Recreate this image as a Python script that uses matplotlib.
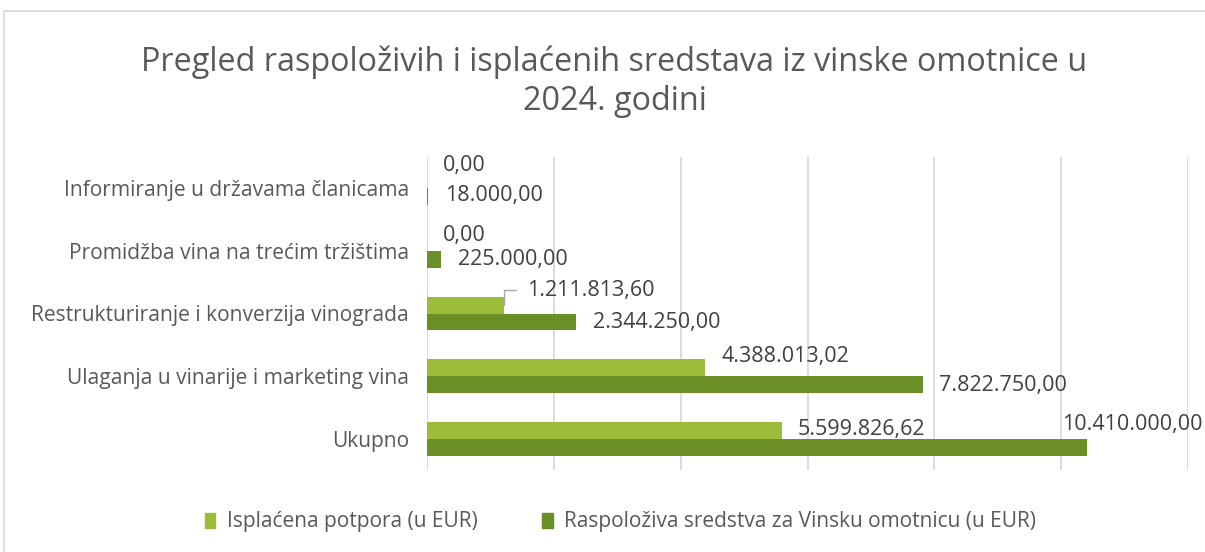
import matplotlib.pyplot as plt
from matplotlib.patches import Rectangle, Patch

plt.rcParams['font.family'] = ['Open Sans', 'DejaVu Sans']

# data (bottom -> top)
categories = ["Ukupno",
              "Ulaganja u vinarije i marketing vina",
              "Restrukturiranje i konverzija vinograda",
              "Promidžba vina na trećim tržištima",
              "Informiranje u državama članicama"]
isplacena = [5599826.62, 4388013.02, 1211813.60, 0.00, 0.00]
raspoloziva = [10410000.00, 7822750.00, 2344250.00, 225000.00, 18000.00]
series_names = ["Isplaćena potpora (u EUR)",
                "Raspoloživa sredstva za Vinsku omotnicu (u EUR)"]

# label offsets in pixels (dx, dy) from bar end
off_light = [(16, 1), (16, 11), (23, 15), (16, 7), (16, 14)]
off_dark = [(-25, 23), (16, -1), (17, -1), (17, 0), (17, 1)]

LIGHT = '#9BBD3A'
DARK = '#6A8F27'
TXT = '#595959'


def fmt(v):
    s = f"{v:,.2f}"
    return s.replace(",", "X").replace(".", ",").replace("X", ".")


fig = plt.figure(figsize=(12.05, 5.52), dpi=100)
ax = fig.add_axes([427 / 1205, 1 - 470 / 552, 761 / 1205, 313 / 552])

h = 0.27
ypos = list(range(len(categories)))
y_light = [y + h / 2 for y in ypos]
y_dark = [y - h / 2 for y in ypos]
ax.barh(y_light, isplacena, height=h, color=LIGHT, zorder=3)
ax.barh(y_dark, raspoloziva, height=h, color=DARK, zorder=3)

ax.set_xlim(0, 12000000)
ax.set_ylim(-0.5, len(categories) - 0.5)
ax.set_xticks(range(0, 12000001, 2000000))
ax.xaxis.grid(True, color='#D9D9D9', linewidth=1.3, zorder=0)
ax.tick_params(axis='x', length=0, labelbottom=False)
ax.tick_params(axis='y', length=0, pad=13, labelsize=15.1, labelcolor=TXT)
ax.set_yticks(ypos)
ax.set_yticklabels(categories)
for sp in ax.spines.values():
    sp.set_visible(False)

for i in range(len(categories)):
    dx, dy = off_light[i]
    kw = {}
    if i == 2:
        kw = dict(arrowprops=dict(arrowstyle='-', color='#A6A6A6', lw=1,
                                  shrinkA=6, shrinkB=0,
                                  connectionstyle='angle,angleA=0,angleB=90,rad=0'))
    ax.annotate(fmt(isplacena[i]), xy=(isplacena[i], y_light[i]),
                xytext=(dx, dy), textcoords='offset pixels', zorder=5,
                ha='left', va='center', fontsize=15.5, color='#404040', **kw)
    dx, dy = off_dark[i]
    ax.annotate(fmt(raspoloziva[i]), xy=(raspoloziva[i], y_dark[i]),
                xytext=(dx, dy), textcoords='offset pixels', zorder=5,
                ha='left', va='center', fontsize=15.5, color='#404040')

fig.text(0.51, 1 - 62 / 552,
         "Pregled raspoloživih i isplaćenih sredstava iz vinske omotnice u",
         ha='center', va='center', fontsize=23.3, color=TXT)
fig.text(0.51, 1 - 102 / 552, "2024. godini",
         ha='center', va='center', fontsize=23.3, color=TXT)

handles = [Patch(color=LIGHT), Patch(color=DARK)]
fig.legend(handles, series_names, loc='center', ncol=2,
           bbox_to_anchor=(0.515, 1 - 522 / 552), frameon=False,
           fontsize=15, labelcolor=TXT, handlelength=0.5, handleheight=0.7,
           handletextpad=0.55, columnspacing=3.1)

fig.patches.append(Rectangle((4 / 1205, -0.05), 1.1, 1 - 11 / 552 + 0.05,
                             transform=fig.transFigure, fill=False,
                             edgecolor='#D9D9D9', linewidth=1.3))

fig.savefig('out.png', dpi=100)
